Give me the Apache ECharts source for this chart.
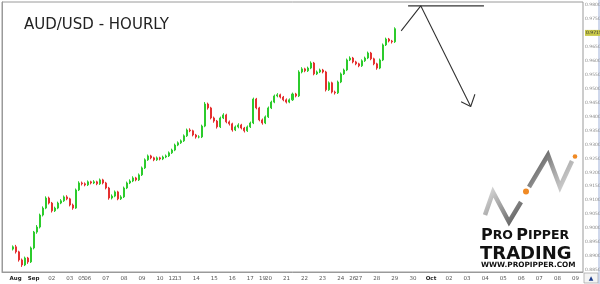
<!DOCTYPE html>
<html><head><meta charset="utf-8">
<script src="https://cdn.jsdelivr.net/npm/echarts@6/dist/echarts.min.js"></script>
<style>html,body{margin:0;padding:0;background:#fff}#c{width:600px;height:284px}</style>
</head><body><div id="c"></div>
<script>
// ---- time axis: day labels and number of 4-hour slots per day ----
const dayLabels = ['', 'Aug','Sep','02','03','05','06','07','08','09','10','12','13','14','15','16','17','19','20','21','22','23','24','26','27','28','29','30','Oct','02','03','04','05','06','07','08','09'];
const daySlots  = [4, 6, 6, 6, 4, 2, 6, 6, 6, 6, 4, 2, 6, 6, 6, 6, 4, 2, 6, 6, 6, 6, 4, 2, 6, 6, 6, 6, 6, 6, 6, 6, 6, 6, 6, 6, 3];
const monthNames = ['Aug','Sep','Oct'];
const firstSlot = 3;

// ---- AUD/USD 4-hour candles ----
const opens = [0.8925,0.8933,0.8915,0.8886,0.8868,0.8893,0.8879,0.8929,0.8986,0.9004,
0.9047,0.9072,0.9108,0.9090,0.9062,0.9072,0.9090,0.9098,0.9112,0.9105,
0.9083,0.9072,0.9137,0.9162,0.9159,0.9155,0.9166,0.9162,0.9166,0.9159,
0.9173,0.9162,0.9144,0.9108,0.9115,0.9130,0.9105,0.9112,0.9144,0.9162,
0.9169,0.9180,0.9173,0.9191,0.9216,0.9245,0.9259,0.9252,0.9245,0.9252,
0.9248,0.9255,0.9259,0.9270,0.9280,0.9298,0.9306,0.9313,0.9331,0.9352,
0.9349,0.9334,0.9327,0.9327,0.9366,0.9445,0.9431,0.9395,0.9384,0.9363,
0.9395,0.9406,0.9381,0.9374,0.9352,0.9363,0.9370,0.9359,0.9349,0.9363,
0.9377,0.9463,0.9431,0.9388,0.9377,0.9399,0.9431,0.9452,0.9474,0.9478,
0.9470,0.9460,0.9452,0.9460,0.9481,0.9474,0.9560,0.9571,0.9564,0.9574,
0.9592,0.9553,0.9560,0.9567,0.9560,0.9496,0.9521,0.9488,0.9485,0.9524,
0.9553,0.9567,0.9603,0.9610,0.9596,0.9589,0.9582,0.9600,0.9610,0.9628,
0.9607,0.9589,0.9574,0.9603,0.9657,0.9678,0.9671,0.9668];
const closes = [0.8933,0.8915,0.8886,0.8868,0.8893,0.8879,0.8929,0.8986,0.9004,0.9047,
0.9072,0.9108,0.9090,0.9062,0.9072,0.9090,0.9098,0.9112,0.9105,0.9083,
0.9072,0.9137,0.9162,0.9159,0.9155,0.9166,0.9162,0.9166,0.9159,0.9173,
0.9162,0.9144,0.9108,0.9115,0.9130,0.9105,0.9112,0.9144,0.9162,0.9169,
0.9180,0.9173,0.9191,0.9216,0.9245,0.9259,0.9252,0.9245,0.9252,0.9248,
0.9255,0.9259,0.9270,0.9280,0.9298,0.9306,0.9313,0.9331,0.9352,0.9349,
0.9334,0.9327,0.9327,0.9366,0.9445,0.9431,0.9395,0.9384,0.9363,0.9395,
0.9406,0.9381,0.9374,0.9352,0.9363,0.9370,0.9359,0.9349,0.9363,0.9377,
0.9463,0.9431,0.9388,0.9377,0.9399,0.9431,0.9452,0.9474,0.9478,0.9470,
0.9460,0.9452,0.9460,0.9481,0.9474,0.9560,0.9571,0.9564,0.9574,0.9592,
0.9553,0.9560,0.9567,0.9560,0.9496,0.9521,0.9488,0.9485,0.9524,0.9553,
0.9567,0.9603,0.9610,0.9596,0.9589,0.9582,0.9600,0.9610,0.9628,0.9607,
0.9589,0.9574,0.9603,0.9657,0.9678,0.9671,0.9668,0.9715];
const highs = [0.8938,0.8940,0.8919,0.8891,0.8898,0.8897,0.8934,0.8990,0.9011,0.9052,
0.9078,0.9114,0.9113,0.9094,0.9077,0.9095,0.9104,0.9117,0.9118,0.9109,
0.9088,0.9142,0.9168,0.9167,0.9164,0.9171,0.9170,0.9172,0.9170,0.9178,
0.9177,0.9166,0.9148,0.9121,0.9135,0.9134,0.9118,0.9149,0.9167,0.9175,
0.9186,0.9184,0.9196,0.9221,0.9250,0.9264,0.9263,0.9256,0.9257,0.9256,
0.9260,0.9264,0.9275,0.9285,0.9303,0.9311,0.9318,0.9336,0.9357,0.9358,
0.9353,0.9338,0.9333,0.9371,0.9452,0.9450,0.9435,0.9400,0.9388,0.9400,
0.9412,0.9410,0.9386,0.9378,0.9368,0.9376,0.9374,0.9363,0.9368,0.9382,
0.9468,0.9467,0.9435,0.9393,0.9404,0.9436,0.9457,0.9479,0.9484,0.9482,
0.9474,0.9465,0.9465,0.9486,0.9485,0.9566,0.9577,0.9575,0.9579,0.9598,
0.9596,0.9565,0.9572,0.9571,0.9564,0.9526,0.9525,0.9493,0.9529,0.9558,
0.9572,0.9608,0.9616,0.9614,0.9600,0.9593,0.9605,0.9615,0.9633,0.9632,
0.9611,0.9593,0.9608,0.9662,0.9683,0.9682,0.9675,0.9720];
const lows = [0.8920,0.8909,0.8880,0.8861,0.8864,0.8872,0.8875,0.8924,0.8980,0.8999,
0.9042,0.9068,0.9085,0.9056,0.9058,0.9068,0.9086,0.9094,0.9100,0.9078,
0.9066,0.9069,0.9133,0.9153,0.9150,0.9151,0.9157,0.9158,0.9154,0.9155,
0.9157,0.9139,0.9102,0.9103,0.9111,0.9100,0.9101,0.9108,0.9140,0.9158,
0.9165,0.9168,0.9169,0.9187,0.9212,0.9241,0.9247,0.9240,0.9241,0.9243,
0.9244,0.9251,0.9255,0.9266,0.9276,0.9294,0.9302,0.9309,0.9327,0.9344,
0.9329,0.9321,0.9322,0.9323,0.9362,0.9425,0.9390,0.9378,0.9357,0.9359,
0.9391,0.9376,0.9368,0.9346,0.9348,0.9358,0.9354,0.9343,0.9345,0.9359,
0.9373,0.9426,0.9383,0.9371,0.9373,0.9395,0.9427,0.9448,0.9469,0.9465,
0.9455,0.9447,0.9448,0.9456,0.9469,0.9470,0.9555,0.9559,0.9560,0.9570,
0.9548,0.9549,0.9556,0.9555,0.9490,0.9492,0.9483,0.9479,0.9481,0.9520,
0.9549,0.9563,0.9599,0.9591,0.9584,0.9577,0.9578,0.9596,0.9606,0.9602,
0.9584,0.9568,0.9570,0.9599,0.9653,0.9666,0.9662,0.9664];

// ---- y axis range (price) ----
const priceMin = 0.88428, priceMax = 0.98108;

// ---- hand-drawn forecast annotation (slot units, price) ----
const forecastLine = [[132.6, 0.9707], [139.1, 0.9797], [155.7, 0.9436]];
const arrowHead    = [[152.5, 0.9453], [155.7, 0.9436], [157.1, 0.9480]];
const resistance   = [[134.9, 0.9797], [160.1, 0.9797]];

// ---- build ----
const categories = [];
dayLabels.forEach((d, i) => { categories.push(d); for (let k = 1; k < daySlots[i]; k++) categories.push(''); });
const rows = opens.map((o, k) => [firstSlot + k, o, closes[k], lows[k], highs[k]]);
const lastPrice = closes[closes.length - 1];

const chart = echarts.init(document.getElementById('c'), null, {renderer: 'canvas'});
const F = 'DejaVu Sans';
chart.setOption({
  animation: false,
  backgroundColor: '#ffffff',
  title: {text: 'AUD/USD - HOURLY', left: 19, top: 13,
    textStyle: {fontFamily: F, fontSize: 15, fontWeight: 'normal', color: '#222'}},
  grid: {left: 2, right: 17, top: 2, bottom: 12, show: true, borderColor: '#9a9a9a', borderWidth: 1, outerBoundsMode: 'none', containLabel: false},
  xAxis: [{
    type: 'category', data: categories, boundaryGap: true,
    axisLine: {show: true, lineStyle: {color: '#9a9a9a'}},
    axisTick: {show: false},
    axisLabel: {interval: 0, fontSize: 5.5, color: '#555', margin: 4, fontFamily: F,
      formatter: v => v === '' ? '' : (monthNames.includes(v) ? '{m|' + v + '}' : v),
      rich: {m: {fontSize: 5.5, fontWeight: 'bold', color: '#222', fontFamily: F}}},
    splitLine: {show: false}
  }, {
    type: 'value', min: 0, max: categories.length, show: false
  }],
  yAxis: {
    type: 'value', position: 'right', min: priceMin, max: priceMax, splitNumber: 20,
    axisLine: {show: true, lineStyle: {color: '#9a9a9a'}},
    axisTick: {show: false},
    splitLine: {show: false},
    axisLabel: {fontSize: 4.5, color: '#8a8a8a', margin: 2, fontFamily: F,
      showMinLabel: false, showMaxLabel: false,
      formatter: v => v.toFixed(4)}
  },
  series: [{
    type: 'candlestick', data: rows, encode: {x: 0, y: [1, 2, 3, 4]},
    barMaxWidth: 2, clip: false,
    itemStyle: {color: '#2ccb2c', color0: '#e53030', borderColor: '#2ccb2c', borderColor0: '#e53030', borderWidth: 1},
    markLine: {silent: true, symbol: ['none', 'none'],
      lineStyle: {color: 'rgba(0,0,0,0)', width: 0.01, type: 'solid'},
      data: [{yAxis: lastPrice}],
      label: {show: true, position: 'end', distance: 2, formatter: () => lastPrice.toFixed(4),
        backgroundColor: '#c8c84a', color: '#333', fontSize: 4.5, padding: [1, 1, 0, 1], fontFamily: F}}
  }, {
    type: 'line', xAxisIndex: 1, data: forecastLine, symbol: 'none', silent: true,
    lineStyle: {color: '#333', width: 1.1}
  }, {
    type: 'line', xAxisIndex: 1, data: arrowHead, symbol: 'none', silent: true,
    lineStyle: {color: '#333', width: 1.1}
  }, {
    type: 'line', xAxisIndex: 1, data: resistance, symbol: 'none', silent: true,
    lineStyle: {color: '#333', width: 1.1}
  }],
  graphic: [
    // logo zig-zags
    {type: 'polyline', shape: {points: [[485,215],[493,192],[509,222],[521,202]]},
      style: {fill: null, lineWidth: 4.5, lineJoin: 'miter', stroke: new echarts.graphic.LinearGradient(0,0,1,1,[{offset:0,color:'#e4e4e4'},{offset:0.5,color:'#9a9a9a'},{offset:1,color:'#4a4a4a'}])}},
    {type: 'polyline', shape: {points: [[529,187],[548,155],[560,187],[572,161]]},
      style: {fill: null, lineWidth: 4.5, lineJoin: 'miter', stroke: new echarts.graphic.LinearGradient(0,0,1,1,[{offset:0,color:'#3a3a3a'},{offset:0.5,color:'#a0a0a0'},{offset:1,color:'#e0e0e0'}])}},
    {type: 'circle', shape: {cx: 526, cy: 191.5, r: 3}, style: {fill: '#f08a24'}},
    {type: 'circle', shape: {cx: 575, cy: 156.5, r: 2.3}, style: {fill: '#f08a24'}},
    // logo text
    {type: 'text', x: 481, y: 244, style: {text: '{a|P}{b|RO} {a|P}{b|IPPER}', verticalAlign: 'bottom', fill: '#111',
      rich: {a: {fontSize: 16, fontWeight: 'bold', fontFamily: F, fill: '#111'}, b: {fontSize: 12.5, fontWeight: 'bold', fontFamily: F, fill: '#111'}}}},
    {type: 'text', x: 480, y: 245, style: {text: 'TRADING', font: 'bold 18px "DejaVu Sans"', fill: '#111'}},
    {type: 'text', x: 481, y: 262, style: {text: 'WWW.PROPIPPER.COM', font: 'bold 7.3px "DejaVu Sans"', fill: '#111'}},
    // bottom-right scroll button and right edge
    {type: 'rect', shape: {x: 584, y: 273, width: 14, height: 10}, style: {fill: '#f4f4f4', stroke: '#aaa', lineWidth: 0.8}},
    {type: 'text', x: 591, y: 278.5, style: {text: '▲', font: '6px "DejaVu Sans"', fill: '#1c3c8c', align: 'center', verticalAlign: 'middle'}},
    {type: 'line', shape: {x1: 599, y1: 0, x2: 599, y2: 284}, style: {stroke: '#9fb0d8', lineWidth: 1}}
  ]
});
</script></body></html>
